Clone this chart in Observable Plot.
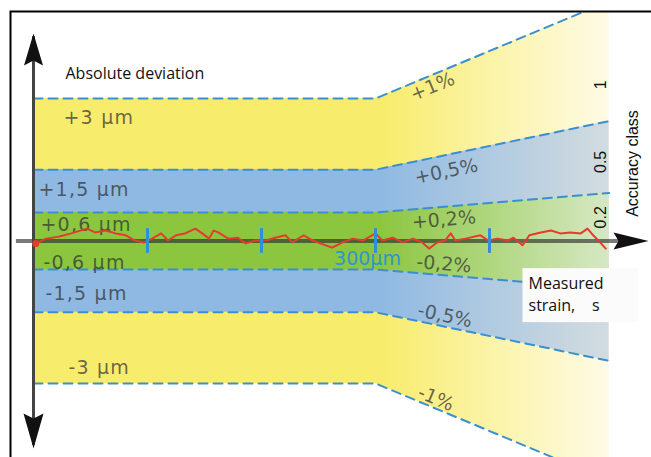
<!DOCTYPE html>
<html><head><meta charset="utf-8">
<script src="https://cdn.jsdelivr.net/npm/d3@7"></script>
<script src="https://cdn.jsdelivr.net/npm/@observablehq/plot@0.6"></script>
<style>
html,body{margin:0;padding:0;overflow:hidden;background:#fff;width:651px;height:457px}
#chart{position:relative;width:655px;height:461px}
svg g[fill="#2b2b2c"] text{letter-spacing:1.2px}
</style></head><body><div id="chart"></div>
<script>
// ---------- data ----------
const classNames = ["1", "0.5", "0.2"];          // accuracy class
const absLimits  = [3, 1.5, 0.6];                // µm, absolute deviation limit
const pctLimits  = [1, 0.5, 0.2];                // %, relative deviation limit
const absLabelsPos = ["+3 µm", "+1,5 µm", "+0,6 µm"];
const absLabelsNeg = ["-3 µm", "-1,5 µm", "-0,6 µm"];
const pctLabelsPos = ["+1%", "+0,5%", "+0,2%"];
const pctLabelsNeg = ["-1%", "-0,5%", "-0,2%"];
const strainGrid = [0, 300, 505];                // µm
const tickStrains = [100, 200, 300, 400];        // µm
const measStrain = [2,11,22,33,47,54,63,72,81,89,97,104,112,118,125,
  133,142,148,154,158,162,171,179,186,195,204,212,221,227,237,245,254,
  262,271,280,289,300,306,315,324,333,341,347,354,361,366,370,379,
  392,399,407,416,421,429,435,445,454,462,471,480,486,491,497,502];
const measDev = [-0.05,0.05,0.09,0.16,0.26,0.18,0.22,0.16,0.12,0.01,-0.03,0.05,0.16,0.01,0.12,
  0.16,0.26,0.16,0.05,0.22,0.18,0.05,0.07,-0.05,0.01,0.01,0.07,0.12,-0.03,0.12,0.01,-0.07,
  -0.14,-0.03,0.05,0.01,0.16,0.01,0.07,-0.03,0.05,-0.03,-0.16,-0.03,0.01,0.16,0.01,0.05,
  0.12,0.01,0.05,0.01,0.07,-0.09,0.12,0.18,0.22,0.16,0.18,0.16,0.26,0.12,-0.03,-0.16];

// ---------- styles / layout ----------
const bandColors = ["#f8ec6c", "#8fb9e2", "#8cc63f"];
const bandFade   = ["#fefbe6", "#d3dcdf", "#d6e8c4"];
const dashColor = "#3a8fd0";
const W = 655, H = 461;
const xDomain = [0, 300], xRange = [33, 375];
const yDomain = [-3, 3], yRange = [383, 98];
const axisX = [-15, 515], arrowX = 539.5;
const axisY = [-4.3, 4.3], arrowY = [-4.37, 4.37];

const lim = (i, s) => Math.max(absLimits[i], pctLimits[i] / 100 * s);
const bands = absLimits.map((a, i) => strainGrid.map(s => ({s, hi: lim(i, s), lo: -lim(i, s)})));
const meas = measStrain.map((s, i) => ({s, v: measDev[i]}));

const kx = (xRange[1] - xRange[0]) / (xDomain[1] - xDomain[0]);
const ky = (yRange[0] - yRange[1]) / (yDomain[1] - yDomain[0]);
const angle = p => Math.atan(p / 100 * ky / kx) * 180 / Math.PI;

const gray = {fontFamily: "DejaVu Sans", fontSize: 19, fill: "#2b2b2b", fillOpacity: 0.7};
const grayWide = {...gray, fill: "#2b2b2c"};
const absPosLayout = [{dx: 30, dy: 19}, {dx: 5, dy: 20}, {dx: 7, dy: 12}];
const absNegLayout = [{dx: 35, dy: -16}, {dx: 12, dy: -18}, {dx: 10, dy: -7}];
const pctPosLayout = [{s: 350, dy: 12}, {s: 362, dy: 16.5}, {s: 360, dy: 13}];
const pctNegLayout = [{s: 353, dy: -10}, {s: 361, dy: -11}, {s: 360, dy: -11}];
const accDy = [22, 4, 0];

function headSymbol(dir, L, Wd, notch) {
  return {draw(ctx) {
    const pts = [[0, 0], [Wd / 2, L], [0, L - notch], [-Wd / 2, L]];
    const tr = ([a, b]) => dir === "up" ? [a, b] : dir === "down" ? [a, -b] : [-b, a];
    pts.map(tr).forEach(([a, b], k) => k ? ctx.lineTo(a, b) : ctx.moveTo(a, b));
    ctx.closePath();
  }};
}

const marks = [];
bands.forEach((b, i) => marks.push(Plot.areaY(b, {x: "s", y1: "lo", y2: "hi", fill: `url(#fade${i})`, clip: true})));
bands.forEach((b, i) => {
  marks.push(Plot.lineY(b, {x: "s", y: "hi", stroke: dashColor, strokeWidth: 2, strokeDasharray: "9,6", clip: true}));
  marks.push(Plot.lineY(b, {x: "s", y: "lo", stroke: dashColor, strokeWidth: 2, strokeDasharray: "9,6", clip: true}));
});
// axes lines
marks.push(Plot.ruleY([0], {x1: axisX[0], x2: axisX[1], stroke: "#222", strokeOpacity: 0.6, strokeWidth: 4}));
marks.push(Plot.ruleX([0], {y1: axisY[0], y2: axisY[1], stroke: "#444", strokeWidth: 3}));
// gray labels
absLabelsPos.forEach((t, i) => marks.push(Plot.text([t], {x: 0, y: absLimits[i], textAnchor: "start", dx: absPosLayout[i].dx, dy: absPosLayout[i].dy, ...grayWide})));
absLabelsNeg.forEach((t, i) => marks.push(Plot.text([t], {x: 0, y: -absLimits[i], textAnchor: "start", dx: absNegLayout[i].dx, dy: absNegLayout[i].dy, ...grayWide})));
pctLabelsPos.forEach((t, i) => marks.push(Plot.text([t], {x: pctPosLayout[i].s, y: lim(i, pctPosLayout[i].s), dy: pctPosLayout[i].dy, rotate: -angle(pctLimits[i]), ...gray})));
pctLabelsNeg.forEach((t, i) => marks.push(Plot.text([t], {x: pctNegLayout[i].s, y: -lim(i, pctNegLayout[i].s), dy: pctNegLayout[i].dy, rotate: angle(pctLimits[i]), ...gray})));
// measured curve
marks.push(Plot.line(meas, {x: "s", y: "v", stroke: "#e63b2c", strokeWidth: 2}));
marks.push(Plot.dot(meas.slice(0, 1), {x: "s", y: "v", r: 3.5, fill: "#e63b2c"}));
// ticks
marks.push(Plot.ruleX(tickStrains, {y1: -0.26, y2: 0.26, stroke: "#2f8fd8", strokeWidth: 3}));
marks.push(Plot.text(["300µm"], {x: 300, y: 0, dx: -8, dy: 17.5, fontFamily: "DejaVu Sans", fontSize: 19, fill: "#2f95d0"}));
// arrowheads
marks.push(Plot.dot([0], {x: 0, y: arrowY[1], symbol: headSymbol("up", 32, 19, 5), fill: "#111", stroke: "none"}));
marks.push(Plot.dot([0], {x: 0, y: arrowY[0], symbol: headSymbol("down", 35, 20, 5), fill: "#111", stroke: "none"}));
marks.push(Plot.dot([0], {x: arrowX, y: 0, symbol: headSymbol("right", 35, 17, 5), fill: "#111", stroke: "none"}));
// black labels
marks.push(Plot.text(["Absolute deviation"], {frameAnchor: "top-left", textAnchor: "start", lineAnchor: "middle", dx: 55, dy: 62, fontFamily: "Open Sans", fontSize: 16, fill: "#111"}));
classNames.forEach((t, i) => marks.push(Plot.text([t], {x: 500, y: (lim(i, 500) + (i + 1 < classNames.length ? lim(i + 1, 500) : 0)) / 2, dx: -3, dy: accDy[i], rotate: -90, fontFamily: "Liberation Sans", fontSize: 16, fill: "#111"})));
marks.push(Plot.text(["Accuracy class"], {frameAnchor: "right", textAnchor: "middle", lineAnchor: "middle", dx: -19.5, dy: -71.5, rotate: -90, fontFamily: "Liberation Sans", fontSize: 16, fill: "#111"}));
marks.push(Plot.text(["Measured\nstrain,\u00a0\u00a0\u00a0\u00a0s"], {frameAnchor: "right", textAnchor: "start", lineAnchor: "top", lineHeight: 1.375, dx: -124, dy: 38.5, fontFamily: "Open Sans", fontSize: 16, fill: "#111"}));
marks.push(Plot.frame({stroke: "#000", strokeWidth: 2}));

const plot = Plot.plot({
  width: W, height: H,
  marginTop: 11, marginLeft: 10, marginRight: 3, marginBottom: 3,
  style: {background: "#fff", overflow: "hidden", maxWidth: "none"},
  x: {domain: xDomain, range: xRange, axis: null},
  y: {domain: yDomain, range: yRange, axis: null},
  marks
});
plot.style.maxWidth = "none";
plot.style.width = W + "px";
plot.style.height = H + "px";
document.getElementById("chart").appendChild(plot);

// gradients for the fading bands
const xs = plot.scale("x").apply(300) + 5, xe = plot.scale("x").apply(505);
const defs = d3.select(plot).insert("defs", ":first-child");
bandColors.forEach((c, i) => {
  const g = defs.append("linearGradient").attr("id", `fade${i}`).attr("gradientUnits", "userSpaceOnUse")
    .attr("x1", xs).attr("x2", xe).attr("y1", 0).attr("y2", 0);
  g.append("stop").attr("offset", 0).attr("stop-color", c);
  g.append("stop").attr("offset", 1).attr("stop-color", bandFade[i]);
});

// box behind the "Measured strain" label
const svgBox = plot.getBoundingClientRect();
const lbl = Array.from(plot.querySelectorAll("text")).find(t => t.textContent.includes("Measured"));
if (lbl) {
  const r = lbl.getBoundingClientRect();
  const grp = lbl.parentNode;
  d3.select(grp.parentNode).insert("rect", () => grp)
    .attr("x", r.left - svgBox.left - 6).attr("y", r.top - svgBox.top - 4)
    .attr("width", r.width + 6 + 35).attr("height", r.height + 10)
    .attr("fill", "#fbfbfb");
}
</script></body></html>
